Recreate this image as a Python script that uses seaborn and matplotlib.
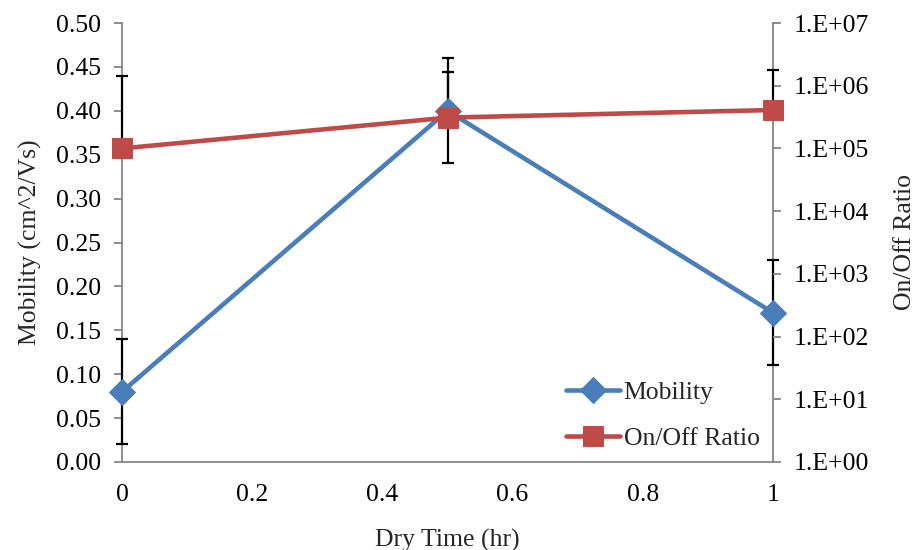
import matplotlib
matplotlib.use("Agg")
import matplotlib.pyplot as plt
import seaborn as sns
import pandas as pd

# Measured device data vs. dry time
dry_time = [0.0, 0.5, 1.0]
mobility = [0.08, 0.40, 0.17]
mobility_err = [0.06, 0.06, 0.06]
on_off = [1.0e5, 3.1e5, 4.1e5]
on_off_err = [1.35e6, 1.35e6, 1.4e6]

x_ticks = [0, 0.2, 0.4, 0.6, 0.8, 1]
x_tick_labels = ["0", "0.2", "0.4", "0.6", "0.8", "1"]
mob_ticks = [0.00, 0.05, 0.10, 0.15, 0.20, 0.25, 0.30, 0.35, 0.40, 0.45, 0.50]
ratio_ticks = [1e0, 1e1, 1e2, 1e3, 1e4, 1e5, 1e6, 1e7]
ratio_tick_labels = ["1.E+00", "1.E+01", "1.E+02", "1.E+03", "1.E+04",
                     "1.E+05", "1.E+06", "1.E+07"]

BLUE = "#4A7EBB"
RED = "#BE4B48"
GRAY = "#868686"
FS = 18.5

sns.set_style("white")
plt.rcParams["font.family"] = ["Liberation Serif", "DejaVu Serif"]
plt.rcParams["font.size"] = FS

df = pd.DataFrame({"dry_time": dry_time, "mobility": mobility, "on_off": on_off})

fig = plt.figure(figsize=(9.15, 5.5), dpi=100)
rect = [122 / 915, 88 / 550, 651 / 915, 439 / 550]

# Layer 1: mobility axis (carries the frame) with its error bars
ax = fig.add_axes(rect)
ax.set_ylim(0, 0.5)
ax.set_xlim(0, 1)
eb1 = ax.errorbar(dry_time, mobility, yerr=mobility_err, fmt="none",
                  ecolor="black", elinewidth=1.6, capsize=4.4, capthick=1.6,
                  zorder=4)

# Layer 2: on/off ratio axis (log) with its error bars, upper side only
ax2 = ax.twinx()
ax2.set_yscale("log")
ax2.set_ylim(1, 1e7)
eb2 = ax2.errorbar(dry_time, on_off, yerr=[[0, 0, 0], on_off_err], fmt="none",
                   ecolor="black", elinewidth=1.6, capsize=4.4, capthick=1.6,
                   zorder=4)

for eb in (eb1, eb2):
    for artist in list(eb.lines[1]) + list(eb.lines[2]):
        artist.set_clip_on(False)

# Layer 3: mobility line
ax3 = fig.add_axes(rect, sharex=ax, sharey=ax)
sns.lineplot(data=df, x="dry_time", y="mobility", ax=ax3, color=BLUE,
             linewidth=3.3, marker="D", markersize=13, markeredgecolor=BLUE,
             label="Mobility", legend=False, clip_on=False)

# Layer 4: on/off ratio line
ax4 = fig.add_axes(rect, sharex=ax)
ax4.set_yscale("log")
sns.lineplot(data=df, x="dry_time", y="on_off", ax=ax4, color=RED,
             linewidth=3.3, marker="s", markersize=14.5, markeredgecolor=RED,
             label="On/Off Ratio", legend=False, clip_on=False)
ax4.set_ylim(1, 1e7)
ax4.set_xlim(0, 1)

for a in (ax3, ax4):
    a.axis("off")

ax.set_xticks(x_ticks)
ax.set_xticklabels(x_tick_labels)
ax.set_yticks(mob_ticks)
ax.set_yticklabels([f"{v:.2f}" for v in mob_ticks])
ax2.set_yticks(ratio_ticks)
ax2.set_yticklabels(ratio_tick_labels)
ax2.yaxis.set_minor_locator(matplotlib.ticker.NullLocator())

ax.set_xlabel("Dry Time (hr)", fontsize=FS, labelpad=16)
ax.set_ylabel("Mobility (cm^2/Vs)", fontsize=FS, labelpad=10)
ax2.set_ylabel("On/Off Ratio", fontsize=FS, labelpad=18)

for side in ("left", "right", "bottom"):
    ax.spines[side].set_color(GRAY)
    ax.spines[side].set_linewidth(1.3)
ax.spines["top"].set_visible(False)
for side in ("left", "right", "bottom", "top"):
    ax2.spines[side].set_visible(False)

for a in (ax, ax2):
    a.tick_params(axis="both", which="major", direction="out", length=6,
                  width=1.3, color=GRAY, labelsize=FS, labelcolor="black")
ax.tick_params(axis="x", pad=10)
ax.tick_params(axis="y", pad=9)
ax2.tick_params(axis="y", pad=9)

h3, l3 = ax3.get_legend_handles_labels()
h4, l4 = ax4.get_legend_handles_labels()
ax4.legend(h3 + h4, l3 + l4, loc="lower right", bbox_to_anchor=(1.015, -0.026),
           frameon=False, fontsize=FS, handlelength=2.1, labelspacing=0.9,
           handletextpad=0.15)

fig.savefig("out.png", dpi=100)
